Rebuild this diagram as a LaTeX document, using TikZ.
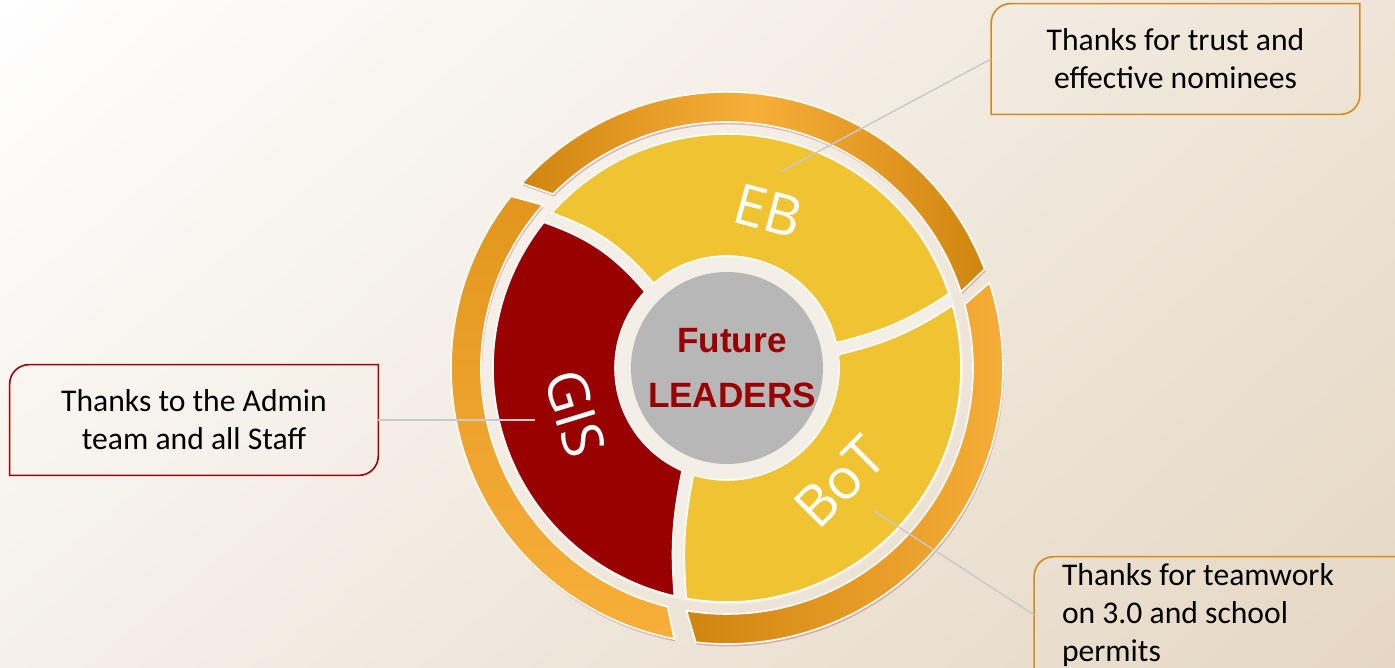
\documentclass[tikz,border=0pt]{standalone}
\usepackage{fontspec}
\setmainfont{Carlito}
\newfontfamily\hubfont{Liberation Sans}
\newfontfamily\petalfont{Open Sans}
\usetikzlibrary{shadows,shadings}

\definecolor{petalgold}{HTML}{F0C332}
\definecolor{petalred}{HTML}{990000}
\definecolor{hubgrey}{HTML}{B7B7B7}
\definecolor{gapcream}{HTML}{F3EEE6}
\definecolor{rimdark}{HTML}{D08510}
\definecolor{rimmid}{HTML}{E2961E}
\definecolor{rimlight}{HTML}{F8AF3A}
\definecolor{rimshade}{HTML}{B03A3A}
\definecolor{boxred}{HTML}{A50000}
\definecolor{boxorange}{HTML}{D4891A}
\definecolor{leadgrey}{HTML}{C6CACC}
\definecolor{bgtr}{HTML}{EEE4D7}
\definecolor{bgbl}{HTML}{F5F0EA}
\definecolor{bgbr}{HTML}{E5D7C3}

% frame with two rounded corners round a note node
\newcommand{\noteframe}[2]{
  \draw[#2, line width=0.9pt] (#1.south west) -- ([yshift=-11pt]#1.north west)
    arc[start angle=180, end angle=90, radius=11pt] -- (#1.north east)
    -- ([yshift=11pt]#1.south east) arc[start angle=0, end angle=-90, radius=11pt] -- cycle;
}

\begin{document}
\begin{tikzpicture}[x=0.02cm, y=0.02cm,
  rim/.style={draw=white, line width=0.9pt,
    drop shadow={shadow xshift=0.6pt, shadow yshift=-1.4pt, fill=rimshade, opacity=0.3}},
  petal/.style={draw=white, line width=0.9pt},
  petallabel/.style={text=white, inner sep=0pt, font=\petalfont\fontsize{32}{34}\selectfont},
  note/.style={font=\fontsize{18}{21.5}\selectfont, inner sep=0pt,
    minimum width=7.36cm, minimum height=2.2cm, align=center},
  lead/.style={draw=leadgrey, line width=0.8pt}]

\useasboundingbox (-727,-299) rectangle (668,368);
\clip (-727,-299) rectangle (668,368);
\shade[upper left=white, upper right=bgtr, lower left=bgbl, lower right=bgbr]
  (-727,-299) rectangle (668,368);

% outer rim, three pieces
\shade[rim, left color=rimdark, right color=rimdark, middle color=rimlight]
  (18:246) -- (21:276) arc[start angle=21, end angle=138, radius=276]
  -- (135:246) arc[start angle=135, end angle=18, radius=246] -- cycle;
\shade[rim, top color=rimmid, bottom color=rimlight]
  (138.5:246) -- (141.5:276) arc[start angle=141.5, end angle=259, radius=276]
  -- (256:246) arc[start angle=256, end angle=138.5, radius=246] -- cycle;
\shade[rim, left color=rimdark, right color=rimlight]
  (260.5:246) -- (263.5:276) arc[start angle=263.5, end angle=378, radius=276]
  -- (375:246) arc[start angle=375, end angle=260.5, radius=246] -- cycle;

% petals
\fill[gapcream] (0,0) circle[radius=236];
\filldraw[petal, fill=petalgold] (13.1:112) to[bend right=10] (18.5:234)
  arc[start angle=18.5, end angle=138.5, radius=234] to[bend left=15] (130.9:112)
  arc[start angle=130.9, end angle=13.1, radius=112] -- cycle;
\filldraw[petal, fill=petalred] (137.1:112) to[bend right=15] (141.5:234)
  arc[start angle=141.5, end angle=257, radius=234] to[bend left=8] (246.4:112)
  arc[start angle=246.4, end angle=137.1, radius=112] -- cycle;
\filldraw[petal, fill=petalgold] (252.6:112) to[bend right=8] (260:234)
  arc[start angle=260, end angle=375.5, radius=234] to[bend left=10] (366.9:112)
  arc[start angle=366.9, end angle=252.6, radius=112] -- cycle;
\fill[hubgrey] (0,0) circle[radius=96];

\node (hub) [font=\hubfont\bfseries\fontsize{20}{31}\selectfont, text=petalred, align=center]
  at (5,0) {Future\\LEADERS};
\node (eb) [petallabel, rotate=-15] at (41,157) {EB};
\node (gis) [petallabel, rotate=-73] at (-152,-45) {GIS};
\node (bot) [petallabel, rotate=45] at (113,-114) {BoT};

% notes
\node (admin) [note] at (-533,-52) {Thanks to the Admin\\team and all Staff};
\node (trust) [note] at (448.5,309) {Thanks for trust and\\effective nominees};
\node (teamwork) [note, minimum height=2.32cm, text width=6.26cm, inner xsep=0.5cm, align=flush left]
  at (491.5,-247) {Thanks for teamwork\\on 3.0 and school\\permits};
\noteframe{admin}{boxred}
\noteframe{trust}{boxorange}
\noteframe{teamwork}{boxorange}

\coordinate (gisend) at (-192,-52);
\coordinate (ebend) at (53,196);
\coordinate (botend) at (147,-143);
\draw[lead] (admin.east) -- (gisend);
\draw[lead] (ebend) -- (trust.west);
\draw[lead] (botend) -- (teamwork.west);
\end{tikzpicture}
\end{document}
